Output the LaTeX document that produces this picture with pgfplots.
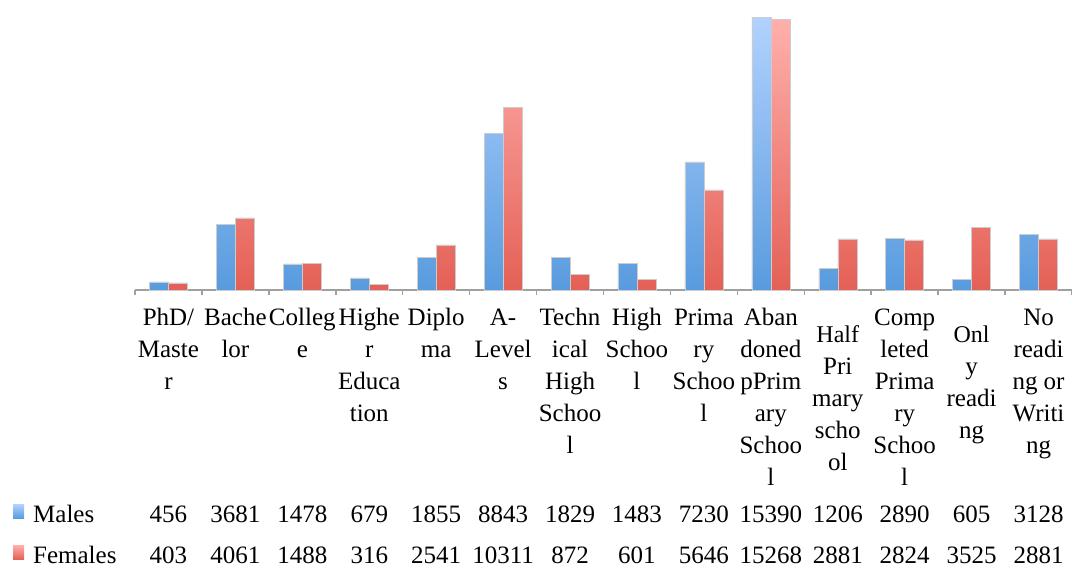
\documentclass[border=0pt]{standalone}
\usepackage{pgfplots}
\pgfplotsset{compat=1.18}
\usepackage{pgfplotstable}
\usepackage{fontspec}
\setmainfont{Liberation Serif}
\definecolor{mtop}{RGB}{178,210,255}
\definecolor{mbot}{RGB}{88,155,222}
\definecolor{ftop}{RGB}{255,176,172}
\definecolor{fbot}{RGB}{228,96,86}
\definecolor{axgray}{RGB}{160,160,160}
\newcommand{\tfont}{\fontsize{25bp}{32bp}\selectfont}
\newcommand{\sfont}{\fontsize{24bp}{30.5bp}\selectfont}
\newcommand{\st}{\rule{0pt}{17bp}}
\newcommand{\sst}{\rule{0pt}{34bp}}
\newcommand{\legbox}{\pgfpathrectangle{\pgfpoint{0bp}{-4bp}}{\pgfpoint{20bp}{22bp}}\pgfusepath{}}

\pgfplotstableread{
x M F
0 456 403
1 3681 4061
2 1478 1488
3 679 316
4 1855 2541
5 8843 10311
6 1829 872
7 1483 601
8 7230 5646
9 15390 15268
10 1206 2881
11 2890 2824
12 605 3525
13 3128 2881
}\datatable

\tikzset{
  malestyle/.style={top color=mtop, bottom color=mbot},
  femalestyle/.style={top color=ftop, bottom color=fbot},
}

\begin{document}
\begin{tikzpicture}
\path[use as bounding box] (-135bp,-279bp) rectangle (937bp,290bp);
\begin{axis}[
  at={(0,0)}, anchor=south west,
  scale only axis,
  width=937bp, height=290bp,
  xmin=-0.5, xmax=13.5,
  ymin=0, ymax=16350,
  clip=false,
  axis y line=none,
  axis x line*=bottom,
  x axis line style={draw=axgray, line width=2bp, -},
  xtick={0,...,13},
  major tick length=0pt,
  xticklabels={
    {\st PhD/\\Maste\\r},
    {\st Bache\\lor},
    {\st Colleg\\e},
    {\st Highe\\r\\Educa\\tion},
    {\st Diplo\\ma},
    {\st A-\\Level\\s},
    {\st Techn\\ical\\High\\Schoo\\l},
    {\st High\\Schoo\\l},
    {\st Prima\\ry\\Schoo\\l},
    {\st Aban\\doned\\pPrim\\ary\\Schoo\\l},
    {\sfont\sst Half\\Pri\\mary\\scho\\ol},
    {\st Comp\\leted\\Prima\\ry\\Schoo\\l},
    {\sfont\sst Onl\\y\\readi\\ng},
    {\st No\\readi\\ng or\\Writi\\ng}
  },
  xticklabel style={anchor=north, inner sep=0pt, yshift=-18bp, align=center, font=\tfont},
  extra x ticks={-0.5,0.5,...,13.5},
  extra x tick labels={},
  extra x tick style={major tick length=5bp, tick align=outside, tick style={draw=axgray, line width=1.5bp}},
  legend style={
    at={(rel axis cs:0,0)}, anchor=north west,
    xshift=-122bp, yshift=-214bp,
    draw=none, fill=none, inner sep=0pt,
    font=\tfont,
    row sep=19bp, column sep=0pt,
    nodes={inner sep=0pt, text height=17bp, text depth=4bp},
    cells={anchor=base west},
  },
]
\addplot[ybar, bar width=19bp, bar shift=-9.5bp, malestyle, draw=black!20, line width=0.5bp,
  legend image code/.code={\legbox \shade[top color=mtop, bottom color=mbot, draw=none] (0bp,4bp) rectangle (11bp,18bp);}]
  table[x=x, y=M] {\datatable};
\addlegendentry{Males}
\addplot[ybar, bar width=19bp, bar shift=9.5bp, femalestyle, draw=black!20, line width=0.5bp,
  legend image code/.code={\legbox \shade[top color=ftop, bottom color=fbot, draw=none] (0bp,4bp) rectangle (11bp,18bp);}]
  table[x=x, y=F] {\datatable};
\addlegendentry{Females}
\addplot[draw=none, mark=none, forget plot, nodes near coords, point meta=explicit symbolic,
  nodes near coords style={anchor=base, yshift=-232bp, font=\tfont, inner sep=0pt}]
  table[x=x, y expr=0, meta=M] {\datatable};
\addplot[draw=none, mark=none, forget plot, nodes near coords, point meta=explicit symbolic,
  nodes near coords style={anchor=base, yshift=-273bp, font=\tfont, inner sep=0pt}]
  table[x=x, y expr=0, meta=F] {\datatable};
\end{axis}
\end{tikzpicture}
\end{document}
